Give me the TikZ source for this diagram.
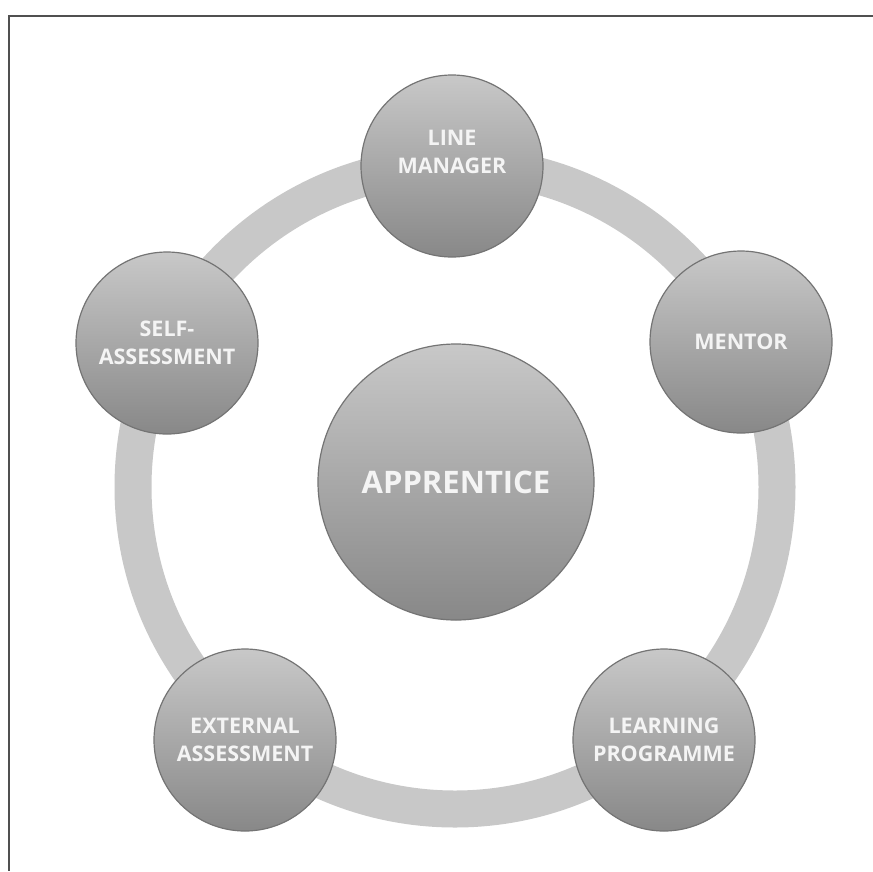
\documentclass[tikz,border=0pt]{standalone}
\usepackage{fontspec}
\setmainfont{Open Sans}
\definecolor{framegray}{HTML}{505050}
\definecolor{ringgray}{HTML}{C8C8C8}
\definecolor{balltop}{HTML}{C8C8C8}
\definecolor{ballbot}{HTML}{888888}
\definecolor{ballrim}{HTML}{747474}
\definecolor{labelwhite}{HTML}{F4F4F4}
\begin{document}
\begin{tikzpicture}[x=1pt,y=-1pt,
  ball/.style={circle, draw=ballrim, line width=1.2pt,
    top color=balltop, bottom color=ballbot, inner sep=0pt},
  satellite/.style={ball, minimum size=182pt},
  hub/.style={ball, minimum size=276pt},
  lbl/.style={text=labelwhite, align=center, font=\bfseries\fontsize{21.5}{28}\selectfont},
  biglbl/.style={text=labelwhite, align=center, font=\bfseries\fontsize{31}{36}\selectfont},
  ringband/.style={draw=ringgray, line width=37pt},
  framerule/.style={draw=framegray, line width=1.5pt}]
  % page and frame
  \useasboundingbox[fill=white] (0,0) rectangle (873,871);
  \coordinate (ftr) at (873,16);
  \coordinate (ftl) at (9,16);
  \coordinate (fbl) at (9,871);
  \draw[framerule] (ftr) -- (ftl) -- (fbl);

  % ring that links the satellites
  \coordinate (rc) at (455,487);
  \draw[ringband] (rc) circle (322);

  % central hub
  \node[hub, biglbl] (app) at (456,482) {APPRENTICE};

  % satellites on the ring
  \node[satellite] (lm) at (452,166) {};
  \node[lbl] (lmtext) at (452,152) {LINE\\MANAGER};
  \node[satellite, lbl] (men) at (741,342) {MENTOR};
  \node[satellite, lbl] (self) at (167,343) {SELF-\\ASSESSMENT};
  \node[satellite, lbl] (ext) at (245,740) {EXTERNAL\\ASSESSMENT};
  \node[satellite, lbl] (lp) at (664,740) {LEARNING\\PROGRAMME};
\end{tikzpicture}
\end{document}
